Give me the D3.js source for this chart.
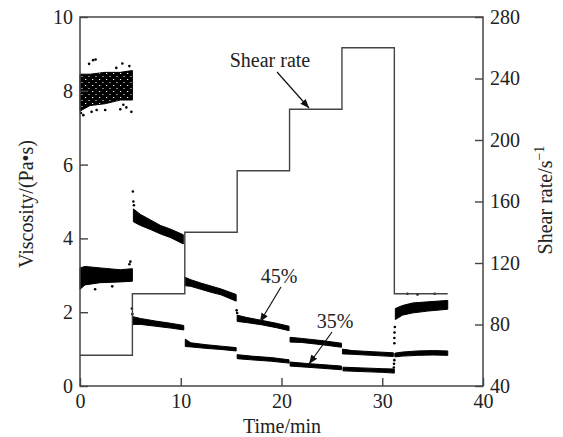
<!DOCTYPE html>
<html>
<head>
<meta charset="utf-8">
<script src="https://cdn.jsdelivr.net/npm/d3@7"></script>
<style>
  body { margin: 0; background: #fff; }
  svg text { font-family: "Liberation Serif", "Times New Roman", serif; fill: #222; }
</style>
</head>
<body>
<svg id="chart" width="563" height="437"></svg>
<script>
// axis ticks
var timeTicks = [0, 10, 20, 30, 40];
var viscTicks = [0, 2, 4, 6, 8, 10];
var shearTicks = [40, 80, 120, 160, 200, 240, 280];

// shear rate steps: time edges and level of each step (s^-1)
var shearTime = [0, 5.2, 10.4, 15.6, 20.8, 26, 31.2, 36.5];
var shearRate = [60, 100, 140, 180, 220, 260, 100];

// viscosity bands, one array per shear step: [time, low, high] (Pa.s)
var visc45 = [
  [[0, 7.45, 8.45], [1, 7.6, 8.45], [2.5, 7.65, 8.5], [4, 7.75, 8.5], [5.2, 7.75, 8.55]],
  [[5.3, 4.45, 4.8], [6, 4.35, 4.65], [7, 4.24, 4.5], [8, 4.12, 4.35], [9, 4.02, 4.25], [10.25, 3.85, 4.1]],
  [[10.4, 2.72, 2.95], [11, 2.7, 2.88], [12, 2.62, 2.79], [13, 2.54, 2.71], [14, 2.47, 2.63], [15.5, 2.3, 2.48]],
  [[15.6, 1.75, 1.92], [16.5, 1.72, 1.86], [18, 1.66, 1.78], [19.5, 1.58, 1.7], [20.75, 1.5, 1.62]],
  [[20.85, 1.19, 1.32], [22, 1.18, 1.29], [24, 1.12, 1.23], [25.95, 1.05, 1.16]],
  [[26.05, 0.87, 1.0], [27, 0.86, 0.96], [29, 0.83, 0.93], [31.1, 0.8, 0.9]],
  [[31.3, 1.8, 2.1], [32, 1.92, 2.18], [33, 1.98, 2.25], [34.5, 2.03, 2.28], [36.5, 2.08, 2.32]]
];
var visc35 = [
  [[0, 2.62, 3.2], [0.5, 2.74, 3.24], [2, 2.8, 3.2], [4, 2.82, 3.15], [5.2, 2.84, 3.18]],
  [[5.25, 1.67, 1.88], [6, 1.67, 1.83], [7.5, 1.62, 1.76], [9, 1.57, 1.7], [10.3, 1.52, 1.64]],
  [[10.45, 1.07, 1.27], [11, 1.06, 1.17], [12.5, 1.02, 1.12], [14, 0.99, 1.08], [15.5, 0.95, 1.04]],
  [[15.6, 0.74, 0.85], [17, 0.71, 0.81], [19, 0.67, 0.77], [20.75, 0.62, 0.71]],
  [[20.85, 0.54, 0.65], [22.5, 0.51, 0.61], [24, 0.48, 0.58], [25.95, 0.44, 0.54]],
  [[26.1, 0.41, 0.51], [28, 0.39, 0.49], [30, 0.37, 0.47], [31.2, 0.35, 0.46]],
  [[31.25, 0.79, 0.89], [32, 0.81, 0.92], [33.5, 0.83, 0.95], [35, 0.84, 0.96], [36.5, 0.83, 0.95]]
];

// loose points outside the bands: [time, viscosity]
var dots45 = [[0.9, 8.73], [1.3, 8.83], [1.55, 8.85], [4.2, 8.74], [4.9, 8.67], [3.6, 8.62],
  [5.1, 7.43], [4.0, 7.5], [1.15, 7.43], [1.65, 7.48], [2.5, 7.48], [0.33, 7.34], [4.3, 7.62],
  [4.6, 7.55], [0.1, 7.4], [5.25, 5.27], [5.3, 5.0], [5.35, 4.9],
  [15.55, 2.05], [15.6, 1.98], [31.2, 1.16], [31.2, 1.3], [31.22, 1.45], [31.25, 1.6],
  [32.5, 2.5], [33.5, 2.48], [35.2, 2.5]];
var dots35 = [[5.0, 3.37], [4.9, 3.3], [1.5, 2.62], [3.2, 2.7], [5.15, 2.1], [5.2, 1.95],
  [31.15, 0.5], [31.17, 0.6], [31.2, 0.7]];

var svg = d3.select("#chart");
var lineCol = "#444";

var x = d3.scaleLinear().domain([0, 40]).range([80, 483]);
var yL = d3.scaleLinear().domain([0, 10]).range([386, 17]);
var yR = d3.scaleLinear().domain([40, 280]).range([386, 17]);

// speckled fill for the loose point cloud at the start
var defs = svg.append("defs");
var pat = defs.append("pattern")
  .attr("id", "speck")
  .attr("width", 7).attr("height", 6)
  .attr("patternUnits", "userSpaceOnUse");
pat.append("rect").attr("width", 7).attr("height", 6).attr("fill", "#000");
pat.append("rect").attr("x", 1).attr("y", 1).attr("width", 1.2).attr("height", 1).attr("fill", "#fff");
pat.append("rect").attr("x", 4.5).attr("y", 4).attr("width", 1).attr("height", 1).attr("fill", "#fff");

var band = d3.area()
  .x(function(d) { return x(d[0]); })
  .y0(function(d) { return yL(d[1]); })
  .y1(function(d) { return yL(d[2]); });

svg.append("g").selectAll("path")
  .data(visc45.concat(visc35))
  .enter().append("path")
  .attr("d", band)
  .attr("fill", function(d, i) { return i === 0 ? "url(#speck)" : "#000"; })
  .attr("stroke", "#000")
  .attr("stroke-width", 1);

svg.append("g").selectAll("circle")
  .data(dots45.concat(dots35))
  .enter().append("circle")
  .attr("cx", function(d) { return x(d[0]); })
  .attr("cy", function(d) { return yL(d[1]); })
  .attr("r", 1.3)
  .attr("fill", "#000");

// shear rate step line
var stepPts = [];
shearRate.forEach(function(r, i) {
  stepPts.push([shearTime[i], r]);
  stepPts.push([shearTime[i + 1], r]);
});
svg.append("path")
  .attr("d", d3.line()
    .x(function(d) { return x(d[0]); })
    .y(function(d) { return yR(d[1]); })(stepPts))
  .attr("fill", "none")
  .attr("stroke", lineCol)
  .attr("stroke-width", 1.4);

// axes
var xAxis = d3.axisBottom(x).tickValues(timeTicks).tickSizeInner(-8).tickSizeOuter(0).tickPadding(8);
var yAxisL = d3.axisLeft(yL).tickValues(viscTicks).tickSizeInner(-8).tickSizeOuter(0).tickPadding(7);
var yAxisR = d3.axisRight(yR).tickValues(shearTicks).tickSizeInner(-8).tickSizeOuter(0).tickPadding(7);

function styleAxis(g) {
  g.attr("font-family", null);
  g.select(".domain").remove();
  g.selectAll("line").attr("stroke", lineCol).attr("stroke-width", 1.4);
  g.selectAll("text").style("font-size", "20px").attr("fill", "#222");
}

svg.append("g").attr("transform", "translate(0,386)").call(xAxis).call(styleAxis);
svg.append("g").attr("transform", "translate(80,0)").call(yAxisL).call(styleAxis);
svg.append("g").attr("transform", "translate(483,0)").call(yAxisR).call(styleAxis);

// frame
svg.append("rect")
  .attr("x", 80).attr("y", 17)
  .attr("width", 403).attr("height", 369)
  .attr("fill", "none")
  .attr("stroke", lineCol)
  .attr("stroke-width", 1.5);

// axis titles
svg.append("text")
  .attr("x", 282).attr("y", 433)
  .attr("text-anchor", "middle")
  .style("font-size", "20px")
  .text("Time/min");

svg.append("text")
  .attr("transform", "translate(33,204) rotate(-90)")
  .attr("text-anchor", "middle")
  .style("font-size", "20px")
  .text("Viscosity/(Pa\u2022s)");

var rt = svg.append("text")
  .attr("transform", "translate(552,200) rotate(-90)")
  .attr("text-anchor", "middle")
  .style("font-size", "20px");
rt.append("tspan").text("Shear rate/s");
rt.append("tspan").attr("dy", -8).style("font-size", "14px").text("\u22121");

// annotations
defs.append("marker")
  .attr("id", "arr")
  .attr("viewBox", "0 0 10 10")
  .attr("refX", 10).attr("refY", 5)
  .attr("markerWidth", 9).attr("markerHeight", 9)
  .attr("markerUnits", "userSpaceOnUse")
  .attr("orient", "auto")
  .append("path").attr("d", "M0,1 L10,5 L0,9 Z").attr("fill", "#111");

var notes = [
  { text: "Shear rate", tx: 270, ty: 67, from: [277, 72], to: [309, 108] },
  { text: "45%", tx: 279, ty: 283, from: [281, 287], to: [260, 322] },
  { text: "35%", tx: 335, ty: 328, from: [332, 332], to: [309, 364] }
];
notes.forEach(function(n) {
  svg.append("text")
    .attr("x", n.tx).attr("y", n.ty)
    .attr("text-anchor", "middle")
    .style("font-size", "20px")
    .text(n.text);
  svg.append("line")
    .attr("x1", n.from[0]).attr("y1", n.from[1])
    .attr("x2", n.to[0]).attr("y2", n.to[1])
    .attr("stroke", "#111")
    .attr("stroke-width", 1.2)
    .attr("marker-end", "url(#arr)");
});
</script>
</body>
</html>
